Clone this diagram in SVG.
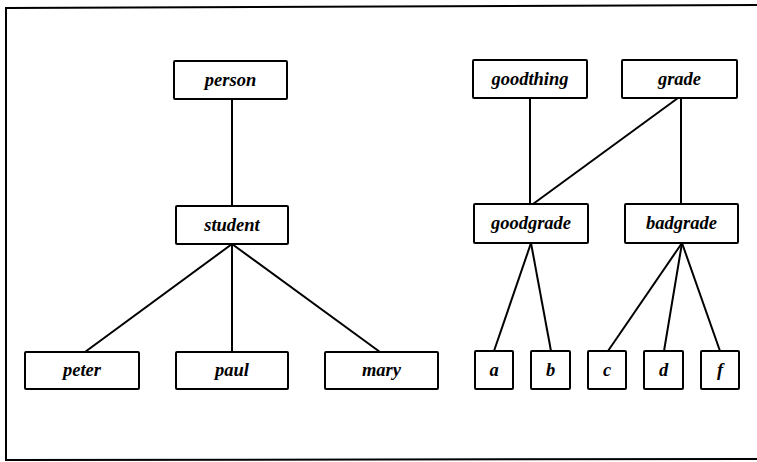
<svg xmlns="http://www.w3.org/2000/svg" width="757" height="462" viewBox="0 0 757 462">
<style>
.box{fill:#fff;stroke:#000;stroke-width:2}
.lbl{font-family:"Liberation Serif",serif;font-weight:bold;font-style:italic;font-size:18.5px;text-anchor:middle;fill:#000}
.edge{stroke:#000;stroke-width:2;fill:none}
.frame{stroke:#000;stroke-width:2;fill:none}
</style>
<rect width="757" height="462" fill="#fff"/>
<g id="frame">
<polyline class="frame" points="757,5 6,8 6,460 757,459"/>
</g>
<g id="connectors">
<line class="edge" x1="232" y1="99" x2="232" y2="206"/>
<line class="edge" x1="232" y1="244" x2="85" y2="352"/>
<line class="edge" x1="232" y1="244" x2="232" y2="352"/>
<line class="edge" x1="232" y1="244" x2="380" y2="352"/>
<line class="edge" x1="530" y1="98" x2="530" y2="204"/>
<line class="edge" x1="678" y1="98" x2="533" y2="204"/>
<line class="edge" x1="681" y1="98" x2="681" y2="204"/>
<line class="edge" x1="531" y1="243" x2="494" y2="351"/>
<line class="edge" x1="531" y1="243" x2="551" y2="351"/>
<line class="edge" x1="682" y1="243" x2="608" y2="351"/>
<line class="edge" x1="682" y1="243" x2="664" y2="351"/>
<line class="edge" x1="682" y1="243" x2="720" y2="351"/>
</g>
<g id="person"><rect class="box" x="174" y="61" width="113" height="38" rx="1"/><text class="lbl" x="230.5" y="86">person</text></g>
<g id="student"><rect class="box" x="176" y="206" width="112" height="38" rx="1"/><text class="lbl" x="232" y="231">student</text></g>
<g id="peter"><rect class="box" x="25" y="352" width="114" height="37" rx="1"/><text class="lbl" x="82" y="376">peter</text></g>
<g id="paul"><rect class="box" x="176" y="352" width="112" height="37" rx="1"/><text class="lbl" x="232" y="376">paul</text></g>
<g id="mary"><rect class="box" x="325" y="352" width="113" height="37" rx="1"/><text class="lbl" x="381.5" y="376">mary</text></g>
<g id="goodthing"><rect class="box" x="473" y="60" width="114" height="38" rx="1"/><text class="lbl" x="530" y="85">goodthing</text></g>
<g id="grade"><rect class="box" x="622" y="60" width="115" height="38" rx="1"/><text class="lbl" x="679.5" y="85">grade</text></g>
<g id="goodgrade"><rect class="box" x="474" y="204" width="114" height="39" rx="1"/><text class="lbl" x="531" y="229">goodgrade</text></g>
<g id="badgrade"><rect class="box" x="625" y="204" width="113" height="39" rx="1"/><text class="lbl" x="681.5" y="229">badgrade</text></g>
<g id="a"><rect class="box" x="475" y="351" width="38" height="38" rx="1"/><text class="lbl" x="494" y="376">a</text></g>
<g id="b"><rect class="box" x="531" y="351" width="39" height="38" rx="1"/><text class="lbl" x="550.5" y="376">b</text></g>
<g id="c"><rect class="box" x="588" y="351" width="38" height="38" rx="1"/><text class="lbl" x="607" y="376">c</text></g>
<g id="d"><rect class="box" x="644" y="351" width="39" height="38" rx="1"/><text class="lbl" x="663.5" y="376">d</text></g>
<g id="f"><rect class="box" x="701" y="351" width="38" height="38" rx="1"/><text class="lbl" x="720" y="376">f</text></g>
</svg>
